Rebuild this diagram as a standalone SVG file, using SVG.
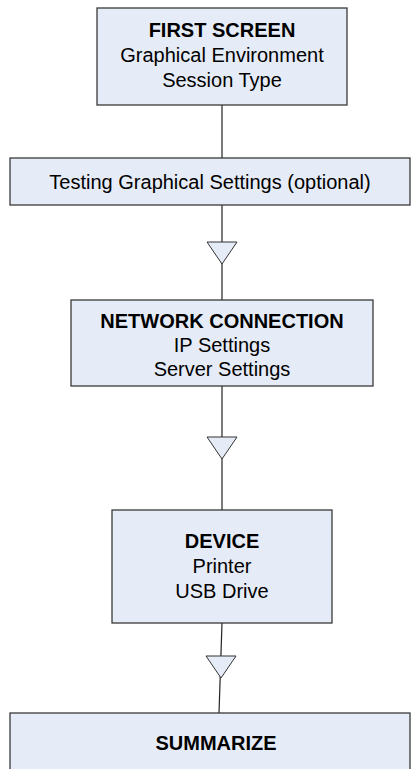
<svg xmlns="http://www.w3.org/2000/svg" width="419" height="769" viewBox="0 0 419 769">
<style>
.box{fill:#E6ECF7;stroke:#3a3a3a;stroke-width:1.3}
.t{font-family:"Liberation Sans",Arial,sans-serif;font-size:20px;fill:#000;text-anchor:middle}
.b{font-weight:bold}
.ln{stroke:#222;stroke-width:1.2;fill:none}
.tri{fill:#E6ECF7;stroke:#333;stroke-width:1}
</style>
<rect width="419" height="769" fill="#fff"/>
<g id="connectors">
<line class="ln" x1="222" y1="105" x2="222" y2="158"/>
<line class="ln" x1="222" y1="205" x2="222" y2="300"/>
<polygon class="tri" points="207,242 237,242 222,264"/>
<line class="ln" x1="222" y1="386" x2="222" y2="510"/>
<polygon class="tri" points="207,437 237,437 222,459"/>
<line class="ln" x1="222" y1="623" x2="219" y2="713"/>
<polygon class="tri" points="206,656 236,656 221,678"/>
</g>
<g id="first-screen">
<rect class="box" x="97" y="8" width="250" height="97"/>
<text class="t b" x="222" y="37">FIRST SCREEN</text>
<text class="t" x="222" y="62">Graphical Environment</text>
<text class="t" x="222" y="87">Session Type</text>
</g>
<g id="testing">
<rect class="box" x="10" y="158" width="400" height="47"/>
<text class="t" x="210" y="189">Testing Graphical Settings (optional)</text>
</g>
<g id="network">
<rect class="box" x="71" y="300" width="302" height="86"/>
<text class="t b" x="222" y="328">NETWORK CONNECTION</text>
<text class="t" x="222" y="352">IP Settings</text>
<text class="t" x="222" y="376">Server Settings</text>
</g>
<g id="device">
<rect class="box" x="112" y="510" width="220" height="113"/>
<text class="t b" x="222" y="548">DEVICE</text>
<text class="t" x="222" y="573">Printer</text>
<text class="t" x="222" y="598">USB Drive</text>
</g>
<g id="summarize">
<rect class="box" x="10" y="713" width="400" height="70"/>
<text class="t b" x="216" y="750">SUMMARIZE</text>
</g>
</svg>
